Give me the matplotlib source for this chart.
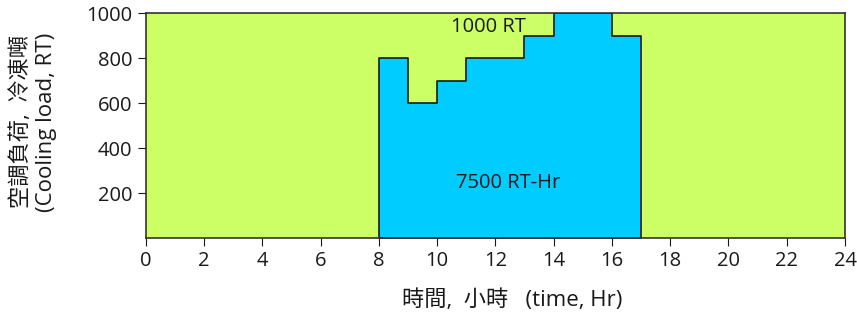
import matplotlib
matplotlib.use("Agg")
import matplotlib.pyplot as plt

plt.rcParams['font.family'] = ['Open Sans', 'Noto Sans CJK TC', 'DejaVu Sans']

# hourly cooling load, RT (hour start -> load)
hours = [8, 9, 10, 11, 12, 13, 14, 15, 16, 17]
load = [800, 600, 700, 800, 800, 900, 1000, 1000, 900, 900]
xticks = list(range(0, 25, 2))
yticks = [200, 400, 600, 800, 1000]

fig = plt.figure(figsize=(8.57, 3.2), dpi=100)
ax = fig.add_axes([0.170, 0.256, 0.816, 0.703])
ax.set_facecolor('#ccff66')

ax.fill_between(hours, load, 0, step='post', color='#00ccff', edgecolor='#1a1a1a', linewidth=1.2)

ax.text(11.76, 940, '1000 RT', ha='center', va='center', fontsize=14.5, color='#1a1a1a')
ax.text(12.44, 244, '7500 RT-Hr', ha='center', va='center', fontsize=14.5, color='#1a1a1a')

ax.set_xlim(0, 24)
ax.set_ylim(0, 1000)
ax.set_xticks(xticks)
ax.set_yticks(yticks)
ax.tick_params(labelsize=14.5, colors='#1a1a1a', length=5.5, pad=4)
for s in ax.spines.values():
    s.set_color('#333333')
    s.set_linewidth(1.2)

# axis titles
fig.text(512 / 857, 0.062, '時間,  小時   (time, Hr)', ha='center', va='center',
         fontsize=16, color='#1a1a1a')
fig.text(34 / 857, 0.619, '空調負荷,  冷凍噸\n(Cooling load, RT)', rotation=90,
         ha='center', va='center', fontsize=16, linespacing=1.25, color='#1a1a1a')

fig.savefig('out.png', dpi=100)
